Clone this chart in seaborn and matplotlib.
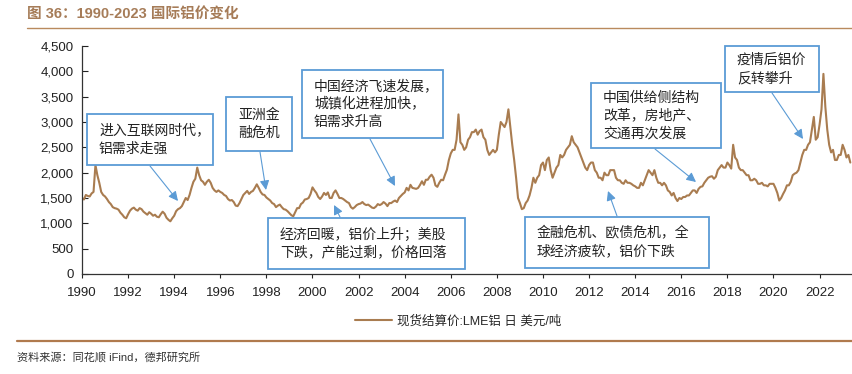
import numpy as np
import pandas as pd
import seaborn as sns
import matplotlib.pyplot as plt
from matplotlib.patches import Rectangle, FancyArrowPatch
from matplotlib.lines import Line2D

# monthly LME aluminium cash price (USD/t), Jan 1990 - May 2023
price_by_year = {
    1990: [1500, 1470, 1560, 1540, 1530, 1590, 1620, 2150, 1950, 1800, 1620, 1560],
    1991: [1530, 1480, 1420, 1380, 1320, 1300, 1290, 1270, 1210, 1170, 1120, 1100],
    1992: [1180, 1250, 1290, 1310, 1270, 1250, 1300, 1280, 1230, 1200, 1170, 1220],
    1993: [1190, 1150, 1170, 1130, 1120, 1180, 1230, 1190, 1110, 1070, 1040, 1100],
    1994: [1150, 1240, 1280, 1300, 1340, 1420, 1500, 1460, 1560, 1700, 1820, 1880],
    1995: [2100, 1950, 1850, 1820, 1760, 1820, 1860, 1800, 1700, 1650, 1620, 1650],
    1996: [1620, 1600, 1560, 1540, 1480, 1450, 1460, 1420, 1350, 1340, 1400, 1480],
    1997: [1560, 1600, 1640, 1580, 1620, 1640, 1700, 1770, 1700, 1620, 1570, 1560],
    1998: [1510, 1480, 1450, 1400, 1380, 1320, 1350, 1370, 1320, 1280, 1270, 1240],
    1999: [1200, 1160, 1140, 1220, 1300, 1300, 1380, 1410, 1470, 1480, 1500, 1580],
    2000: [1710, 1650, 1600, 1520, 1480, 1530, 1600, 1560, 1610, 1500, 1500, 1600],
    2001: [1650, 1580, 1500, 1500, 1480, 1450, 1420, 1400, 1320, 1290, 1320, 1360],
    2002: [1380, 1390, 1420, 1380, 1360, 1370, 1340, 1310, 1300, 1330, 1380, 1360],
    2003: [1380, 1420, 1390, 1340, 1400, 1400, 1430, 1450, 1420, 1500, 1540, 1580],
    2004: [1610, 1700, 1650, 1760, 1700, 1690, 1680, 1700, 1760, 1830, 1760, 1860],
    2005: [1860, 1920, 1960, 1900, 1750, 1720, 1800, 1860, 1850, 1960, 2060, 2250],
    2006: [2380, 2450, 2450, 2650, 3150, 2600, 2550, 2450, 2500, 2650, 2700, 2800],
    2007: [2800, 2850, 2750, 2820, 2850, 2700, 2650, 2450, 2350, 2400, 2450, 2400],
    2008: [2450, 2750, 3000, 2950, 2900, 3000, 3250, 2900, 2550, 2250, 1900, 1500],
    2009: [1400, 1280, 1300, 1400, 1450, 1550, 1700, 1900, 1800, 1900, 1950, 2150],
    2010: [2200, 2050, 2250, 2300, 2050, 1900, 2000, 2100, 2150, 2350, 2300, 2350],
    2011: [2450, 2500, 2550, 2720, 2600, 2550, 2500, 2400, 2300, 2200, 2100, 2050],
    2012: [2150, 2200, 2200, 2050, 2000, 1900, 1900, 1850, 2000, 1950, 1950, 2050],
    2013: [2050, 2050, 1900, 1850, 1850, 1800, 1780, 1850, 1800, 1800, 1780, 1750],
    2014: [1730, 1700, 1700, 1800, 1750, 1850, 1950, 2050, 2000, 1950, 2050, 1900],
    2015: [1800, 1800, 1750, 1800, 1750, 1650, 1620, 1550, 1600, 1500, 1440, 1500],
    2016: [1480, 1520, 1520, 1550, 1550, 1600, 1650, 1650, 1600, 1680, 1720, 1730],
    2017: [1800, 1850, 1900, 1920, 1930, 1880, 1920, 2050, 2100, 2150, 2100, 2100],
    2018: [2200, 2150, 2080, 2550, 2300, 2250, 2100, 2050, 2050, 2000, 1950, 1950],
    2019: [1850, 1850, 1880, 1850, 1780, 1780, 1800, 1750, 1750, 1730, 1780, 1780],
    2020: [1780, 1700, 1600, 1450, 1500, 1580, 1650, 1750, 1750, 1820, 1950, 1980],
    2021: [2000, 2050, 2200, 2350, 2450, 2450, 2550, 2600, 2850, 3100, 2650, 2700],
    2022: [2950, 3250, 3950, 3300, 2850, 2550, 2400, 2450, 2250, 2250, 2350, 2350],
    2023: [2550, 2450, 2300, 2350, 2200],
}

year_ticks = list(range(1990, 2023, 2))
y_ticks = list(range(0, 4501, 500))
series_name = '现货结算价:LME铝 日 美元/吨'

rows = []
for yr, vals in price_by_year.items():
    for m, v in enumerate(vals):
        rows.append({'year': yr + m / 12, 'price': v})
df = pd.DataFrame(rows)

sns.set_style('ticks')
plt.rcParams['font.family'] = ['Liberation Sans', 'Noto Sans CJK SC', 'DejaVu Sans']

W, H = 853, 374
fig = plt.figure(figsize=(W / 100, H / 100), dpi=100)

def fx(px):
    return px / W

def fy(py):
    return 1 - py / H

ax = fig.add_axes([fx(82), fy(274), fx(853) - fx(82), fy(46) - fy(274)])

line_color = '#A97C50'
sns.lineplot(data=df, x='year', y='price', ax=ax, color=line_color, lw=1.5, legend=False)

ax.set_xlim(1990, 2023.45)
ax.set_ylim(0, 4500)
ax.set_xticks(year_ticks)
ax.set_xticklabels([str(y) for y in year_ticks], fontsize=9.5)
ax.set_yticks(y_ticks)
ax.set_yticklabels([f'{v:,}' for v in y_ticks], fontsize=9.5)
ax.set_xlabel('')
ax.set_ylabel('')
ax.tick_params(axis='y', direction='in', length=4, width=0.8, colors='#222222', pad=6)
ax.tick_params(axis='x', direction='out', length=3, width=0.8, colors='#222222', pad=6)
for s in ['top', 'right']:
    ax.spines[s].set_visible(False)
for s in ['left', 'bottom']:
    ax.spines[s].set_color('#333333')
    ax.spines[s].set_linewidth(0.9)

# title and rules
fig.text(fx(27), fy(15), '图 36：1990-2023 国际铝价变化', fontsize=10.5, fontweight='bold',
         color='#A67C58', va='center', ha='left')
fig.add_artist(Line2D([fx(27), fx(853)], [fy(28), fy(28)], color='#B98A5E', lw=1.0))
fig.add_artist(Line2D([fx(17), fx(853)], [fy(341), fy(341)], color='#B07A4E', lw=1.6))
fig.text(fx(17), fy(357), '资料来源：同花顺 iFind，德邦研究所', fontsize=8, color='#333333',
         va='center', ha='left')

# legend
handle = Line2D([], [], color=line_color, lw=1.5)
fig.legend([handle], [series_name], loc='center', bbox_to_anchor=(fx(458), fy(321)),
           frameon=False, fontsize=9, handlelength=3, handletextpad=0.4)

# annotation boxes: (text, box left/top/right/bottom, arrow tail, arrow head) in pixels
box_blue = '#5B9BD5'
notes = [
    ('进入互联网时代，\n铝需求走强', (87, 114, 213, 165), (150, 166), (178, 201)),
    ('亚洲金\n融危机', (226, 97, 292, 151), (260, 152), (266, 190)),
    ('中国经济飞速发展，\n城镇化进程加快，\n铝需求升高', (302, 70, 443, 138), (370, 139), (395, 186)),
    ('经济回暖，铝价上升；美股\n下跌，产能过剩，价格回落', (268, 218, 465, 269), (340, 217), (334, 205)),
    ('金融危机、欧债危机，全\n球经济疲软，铝价下跌', (525, 217, 709, 268), (617, 216), (608, 191)),
    ('中国供给侧结构\n改革，房地产、\n交通再次发展', (591, 83, 721, 148), (655, 149), (696, 182)),
    ('疫情后铝价\n反转攀升', (725, 46, 819, 92), (772, 93), (803, 139)),
]
for text, (l, t, r, b), tail, head in notes:
    fig.add_artist(Rectangle((fx(l), fy(b)), fx(r) - fx(l), fy(t) - fy(b),
                             transform=fig.transFigure, facecolor='white',
                             edgecolor=box_blue, lw=1.3, zorder=5))
    fig.text(fx(l + 12), (fy(t) + fy(b)) / 2, text, fontsize=10, color='#222222',
             va='center', ha='left', linespacing=1.35, zorder=6,
             family=['Noto Sans CJK SC', 'DejaVu Sans'])
    fig.add_artist(FancyArrowPatch(
        (fx(tail[0]), fy(tail[1])), (fx(head[0]), fy(head[1])),
        transform=fig.transFigure, arrowstyle='-|>', mutation_scale=14,
        color=box_blue, lw=0.8, shrinkA=0, shrinkB=0, zorder=6))

fig.savefig('out.png', dpi=100)
